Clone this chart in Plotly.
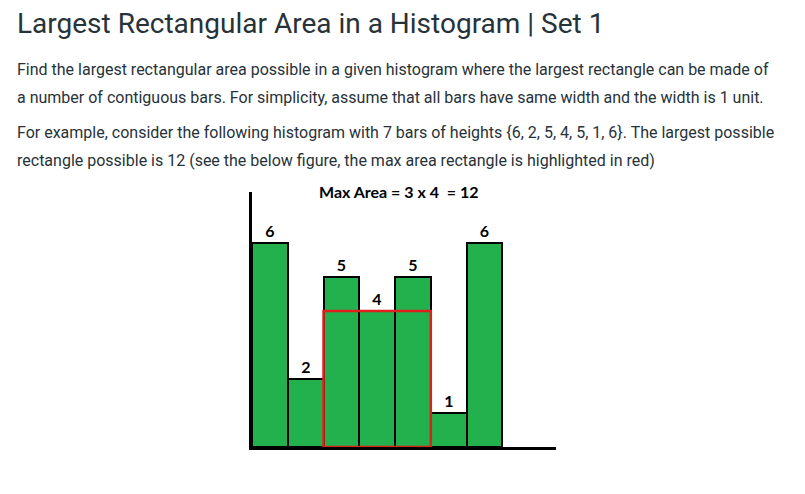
import plotly.graph_objects as go

# ---- data ----
heights = [6, 2, 5, 4, 5, 1, 6]
bar_labels = [str(h) for h in heights]
heading = "Largest Rectangular Area in a Histogram | Set 1"
para_lines = [
    "Find the largest rectangular area possible in a given histogram where the largest rectangle can be made of",
    "a number of contiguous bars. For simplicity, assume that all bars have same width and the width is 1 unit.",
    "For example, consider the following histogram with 7 bars of heights {6, 2, 5, 4, 5, 1, 6}. The largest possible",
    "rectangle possible is 12 (see the below figure, the max area rectangle is highlighted in red)",
]

# ---- largest rectangle (computed from data) ----
best = (0, 0, 0, 0)  # area, start, end, height
for i in range(len(heights)):
    m = heights[i]
    for j in range(i, len(heights)):
        m = min(m, heights[j])
        a = m * (j - i + 1)
        if a > best[0]:
            best = (a, i, j, m)
area, s, e, h = best
fig_title = f"Max Area = {e - s + 1} x {h}  = {area}"

W, H = 805, 494
OFF = 8  # page body margin
L, R, T, B = 252 - OFF, 556 - OFF, 192 - OFF, 447 - OFF  # plot area in figure pixels


def px(x):
    return (x - OFF - L) / (R - L)


def py(y):
    return (B - (y - OFF)) / (B - T)


xs = list(range(len(heights)))
fig = go.Figure(
    go.Bar(
        x=xs,
        y=heights,
        width=1,
        marker=dict(color="#22b14c", line=dict(color="black", width=2)),
        text=bar_labels,
        textposition="outside",
        cliponaxis=False,
        textfont=dict(family="Lato", size=16, color="black", weight="bold"),
        hoverinfo="skip",
    )
)

fig.add_shape(
    type="rect", xref="x", yref="y",
    x0=s - 0.5, x1=e + 0.5, y0=0, y1=h,
    line=dict(color="#e0201c", width=2.5),
)

TXT = "#273239"
annotations = [
    dict(text=fig_title, x=px(398), y=py(191), xref="paper", yref="paper",
         xanchor="center", yanchor="middle", showarrow=False,
         font=dict(family="Lato", size=16, color="black", weight="bold")),
    dict(text=heading, x=px(15), y=py(24), xref="paper", yref="paper",
         xanchor="left", yanchor="middle", showarrow=False,
         font=dict(family="Roboto", size=28, color=TXT)),
]
line_y = [70, 97, 133, 160]
for t, yy in zip(para_lines, line_y):
    annotations.append(dict(text=t, x=px(15), y=py(yy), xref="paper", yref="paper",
                            xanchor="left", yanchor="middle", showarrow=False,
                            font=dict(family="Roboto", size=16, color=TXT)))

fig.update_layout(
    width=W, height=H,
    margin=dict(l=L, r=W - R, t=T, b=H - B, pad=0),
    paper_bgcolor="white", plot_bgcolor="white",
    showlegend=False, bargap=0,
    xaxis=dict(range=[-0.5, 8.0], showgrid=False, zeroline=False, showticklabels=False,
               ticks="", showline=True, linecolor="black", linewidth=3, fixedrange=True),
    yaxis=dict(range=[0, 7.5], showgrid=False, zeroline=False, showticklabels=False,
               ticks="", showline=True, linecolor="black", linewidth=3, fixedrange=True),
    annotations=annotations,
)

fig.write_html("out.html")
